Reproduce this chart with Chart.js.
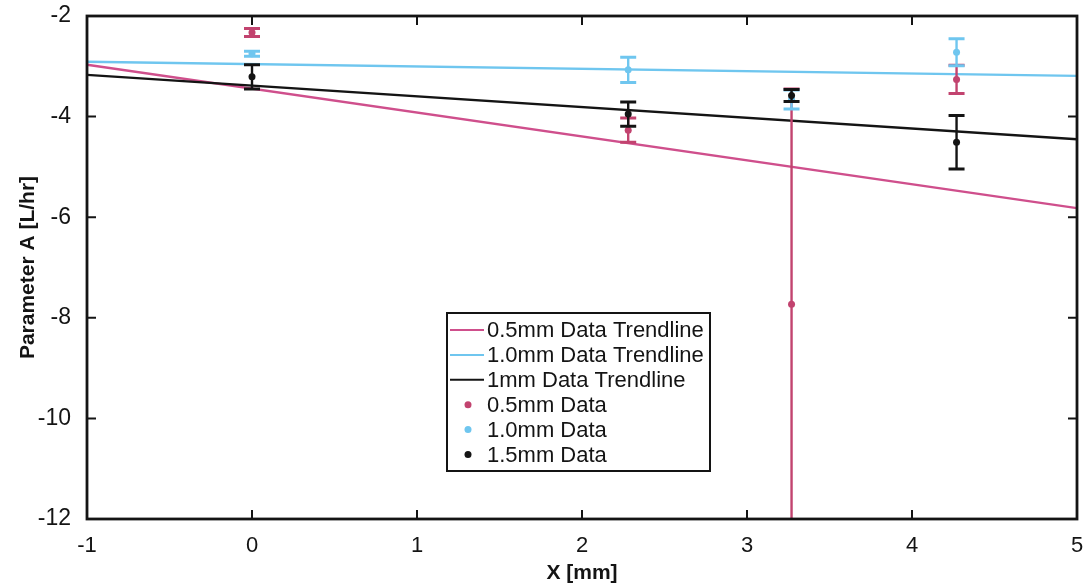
<!DOCTYPE html>
<html>
<head>
<meta charset="utf-8">
<script src="https://cdn.jsdelivr.net/npm/chart.js@4/dist/chart.umd.min.js"></script>
<style>
    html, body { margin: 0; padding: 0; background: #fff; }
    #wrap { width: 1084px; height: 584px; }
</style>
</head>
<body>
<div id="wrap"><canvas id="paramChart" width="1084" height="584"></canvas></div>
<script>
// measurement positions (mm)
const xPositions = [0, 2.28, 3.27, 4.27];

// Parameter A and error half-widths per diameter
const data05 = [-2.33, -4.27, -7.73, -3.26];
const err05 = [0.08, 0.24, 4.28, 0.28];
const data10 = [-2.75, -3.07, -3.66, -2.72];
const err10 = [0.05, 0.25, 0.19, 0.27];
const data15 = [-3.21, -3.95, -3.58, -4.51];
const err15 = [0.24, 0.24, 0.12, 0.53];

// trendline end values at x = -1 and x = 5
const trendX = [-1, 5];
const trend05 = [-2.97, -5.82];
const trend10 = [-2.91, -3.19];
const trend15 = [-3.17, -4.45];

// axis ticks
const xTickValues = [-1, 0, 1, 2, 3, 4, 5];
const yTickValues = [-12, -10, -8, -6, -4, -2];

const legendLabels = [
    '0.5mm Data Trendline',
    '1.0mm Data Trendline',
    '1mm Data Trendline',
    '0.5mm Data',
    '1.0mm Data',
    '1.5mm Data'
];

const PINK = '#cf4f8c';
const PINK_DOT = '#c2436f';
const BLUE = '#6fc6ef';
const BLACK = '#141414';
const FONT = "'Liberation Sans', Arial, sans-serif";

const toPoints = (xs, ys) => xs.map((x, i) => ({ x: x, y: ys[i] }));

// vertical error bars with caps, drawn just before each data series
const errorBars = {
    id: 'errorBars',
    beforeDatasetDraw(chart, args) {
        const ds = chart.data.datasets[args.index];
        if (!ds.errors) return;
        const { ctx, chartArea, scales: { x, y } } = chart;
        ctx.save();
        ctx.beginPath();
        ctx.rect(chartArea.left, chartArea.top, chartArea.width, chartArea.height);
        ctx.clip();
        ctx.strokeStyle = ds.barColor;
        ds.data.forEach((p, i) => {
            const e = ds.errors[i];
            const px = x.getPixelForValue(p.x);
            const top = y.getPixelForValue(p.y + e);
            const bot = y.getPixelForValue(p.y - e);
            ctx.lineWidth = 2.4;
            ctx.beginPath();
            ctx.moveTo(px, top);
            ctx.lineTo(px, bot);
            ctx.stroke();
            ctx.lineWidth = 3;
            ctx.beginPath();
            ctx.moveTo(px - 8, top);
            ctx.lineTo(px + 8, top);
            ctx.moveTo(px - 8, bot);
            ctx.lineTo(px + 8, bot);
            ctx.stroke();
        });
        ctx.restore();
    }
};

// box frame with inward ticks on all four sides
const frameBox = {
    id: 'frameBox',
    afterDraw(chart) {
        const { ctx, chartArea: ca, scales: { x, y } } = chart;
        ctx.save();
        ctx.strokeStyle = BLACK;
        ctx.lineWidth = 2.8;
        ctx.strokeRect(ca.left, ca.top, ca.width, ca.height);
        ctx.lineWidth = 2;
        ctx.beginPath();
        xTickValues.forEach(v => {
            const px = x.getPixelForValue(v);
            ctx.moveTo(px, ca.bottom);
            ctx.lineTo(px, ca.bottom - 9);
            ctx.moveTo(px, ca.top);
            ctx.lineTo(px, ca.top + 9);
        });
        yTickValues.forEach(v => {
            const py = y.getPixelForValue(v);
            ctx.moveTo(ca.left, py);
            ctx.lineTo(ca.left + 9, py);
            ctx.moveTo(ca.right, py);
            ctx.lineTo(ca.right - 9, py);
        });
        ctx.stroke();
        ctx.restore();
    }
};

// legend box inside the plot
const boxLegend = {
    id: 'boxLegend',
    afterDraw(chart) {
        const { ctx, chartArea: ca } = chart;
        const left = ca.left + 360;
        const top = ca.top + 297;
        const w = 263, h = 158, row = 24.9;
        const styles = [
            { line: PINK }, { line: BLUE }, { line: BLACK },
            { dot: PINK_DOT }, { dot: BLUE }, { dot: BLACK }
        ];
        ctx.save();
        ctx.fillStyle = '#fff';
        ctx.fillRect(left, top, w, h);
        ctx.strokeStyle = BLACK;
        ctx.lineWidth = 2;
        ctx.strokeRect(left, top, w, h);
        ctx.font = '22px ' + FONT;
        ctx.textBaseline = 'middle';
        legendLabels.forEach((label, i) => {
            const cy = top + 17 + i * row;
            const s = styles[i];
            if (s.line) {
                ctx.strokeStyle = s.line;
                ctx.lineWidth = 2;
                ctx.beginPath();
                ctx.moveTo(left + 3, cy);
                ctx.lineTo(left + 37, cy);
                ctx.stroke();
            } else {
                ctx.fillStyle = s.dot;
                ctx.beginPath();
                ctx.arc(left + 21, cy, 3.5, 0, Math.PI * 2);
                ctx.fill();
            }
            ctx.fillStyle = BLACK;
            ctx.fillText(label, left + 40, cy + 1);
        });
        ctx.restore();
    }
};

const trendSet = (label, ys, color, order) => ({
    label: label,
    data: toPoints(trendX, ys),
    showLine: true,
    borderColor: color,
    borderWidth: 2.4,
    pointRadius: 0,
    order: order
});

const dataSet = (label, ys, errs, color, order) => ({
    label: label,
    data: toPoints(xPositions, ys),
    errors: errs,
    barColor: color,
    showLine: false,
    pointRadius: 3.5,
    pointBackgroundColor: color,
    pointBorderWidth: 0,
    order: order
});

new Chart(document.getElementById('paramChart'), {
    type: 'scatter',
    data: {
        datasets: [
            trendSet(legendLabels[0], trend05, PINK, 6),
            trendSet(legendLabels[1], trend10, BLUE, 5),
            trendSet(legendLabels[2], trend15, BLACK, 4),
            dataSet(legendLabels[3], data05, err05, PINK_DOT, 3),
            dataSet(legendLabels[4], data10, err10, BLUE, 2),
            dataSet(legendLabels[5], data15, err15, BLACK, 1)
        ]
    },
    options: {
        responsive: false,
        animation: false,
        layout: { padding: { top: 16, right: 7, left: 0, bottom: 0 } },
        plugins: {
            legend: { display: false },
            tooltip: { enabled: false }
        },
        scales: {
            x: {
                type: 'linear',
                min: -1,
                max: 5,
                grid: { display: false },
                border: { display: false },
                afterBuildTicks: scale => { scale.ticks = xTickValues.map(v => ({ value: v })); },
                afterFit: scale => {
                    scale.height = 65;
                    scale.paddingLeft = 0;
                    scale.paddingRight = 0;
                },
                ticks: {
                    color: BLACK,
                    padding: 6,
                    font: { family: FONT, size: 22 }
                },
                title: {
                    display: true,
                    text: 'X [mm]',
                    color: BLACK,
                    padding: { top: 0, bottom: -2 },
                    font: { family: FONT, size: 21, weight: 'bold' }
                }
            },
            y: {
                type: 'linear',
                min: -12,
                max: -2,
                grid: { display: false },
                border: { display: false },
                afterBuildTicks: scale => { scale.ticks = yTickValues.map(v => ({ value: v })); },
                afterFit: scale => {
                    scale.width = 87;
                    scale.paddingTop = 0;
                    scale.paddingBottom = 0;
                },
                ticks: {
                    color: BLACK,
                    padding: 8,
                    font: { family: FONT, size: 23 }
                },
                title: {
                    display: true,
                    text: 'Parameter A [L/hr]',
                    color: BLACK,
                    padding: { top: 16, bottom: 0 },
                    font: { family: FONT, size: 21, weight: 'bold' }
                }
            }
        }
    },
    plugins: [errorBars, frameBox, boxLegend]
});
</script>
</body>
</html>
